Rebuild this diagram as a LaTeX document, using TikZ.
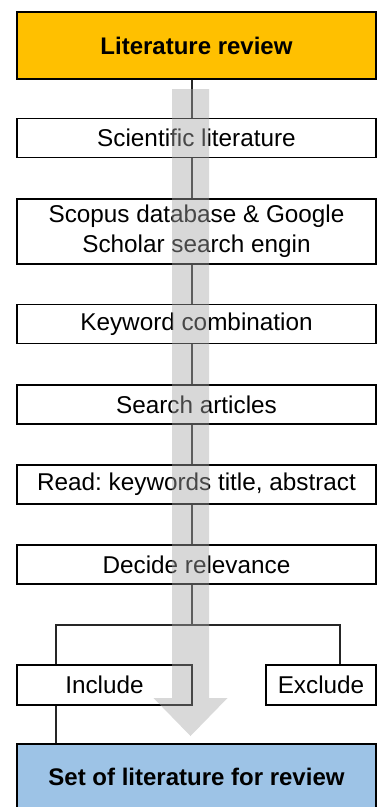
\documentclass[tikz,border=0pt]{standalone}
\usepackage{fontspec}
\setmainfont{Liberation Sans}
\frenchspacing
\begin{document}
\begin{tikzpicture}[x=1pt,y=-1pt,
  stepbox/.style={draw=black, line width=1.8pt, fill=white, minimum width=359pt,
    minimum height=39pt, inner sep=0pt, align=center, font=\fontsize{24.3}{30}\selectfont},
  headbox/.style={stepbox, font=\fontsize{24}{30}\selectfont\bfseries},
  link/.style={draw=black!85, line width=1.5pt},
  flowarrow/.style={fill=black!35, fill opacity=0.43, draw=none}]
\useasboundingbox (0,0) rectangle (377,807);
\definecolor{headorange}{HTML}{FFC000}
\definecolor{tailblue}{HTML}{9DC3E6}

% main sequence of steps
\node[headbox, fill=headorange, minimum height=67pt] (top) at (196.5,45.5) {Literature review};
\node[stepbox] (sci) at (196.5,138) {Scientific literature};
\node[stepbox, minimum height=65pt] (scopus) at (196.5,231.5) {Scopus database \& Google\\Scholar search engin};
\node[stepbox] (kw) at (196.5,324) {Keyword combination};
\node[stepbox] (search) at (196.5,404.5) {Search articles};
\node[stepbox] (read) at (196.5,484.5) {Read: keywords title, abstract};
\node[stepbox] (decide) at (196.5,564.5) {Decide relevance};

% decision outcomes
\node[stepbox, minimum width=175pt, minimum height=40pt] (inc) at (104.5,685) {Include};
\node[stepbox, minimum width=110pt, minimum height=40pt] (exc) at (321,685) {Exclude};
\node[headbox, fill=tailblue, minimum height=66pt] (final) at (196.5,777) {Set of literature for review};

% connectors
\coordinate (axis) at (192,0);
\coordinate (split) at (192,625);
\coordinate (incx) at (56,0);
\coordinate (excx) at (340,0);
\draw[link] (top.south -| axis) -- (sci.north -| axis);
\draw[link] (sci.south -| axis) -- (scopus.north -| axis);
\draw[link] (scopus.south -| axis) -- (kw.north -| axis);
\draw[link] (kw.south -| axis) -- (search.north -| axis);
\draw[link] (search.south -| axis) -- (read.north -| axis);
\draw[link] (read.south -| axis) -- (decide.north -| axis);
\draw[link] (decide.south -| axis) -- (split);
\draw[link] (inc.north -| incx) |- (split) -| (exc.north -| excx);
\draw[link] (inc.south -| incx) -- (final.north -| incx);

% translucent overall flow arrow
\fill[flowarrow] (172,89) -- (209,89) -- (209,698) -- (227.5,698)
  -- (190.5,736) -- (153.5,698) -- (172,698) -- cycle;
\end{tikzpicture}
\end{document}
